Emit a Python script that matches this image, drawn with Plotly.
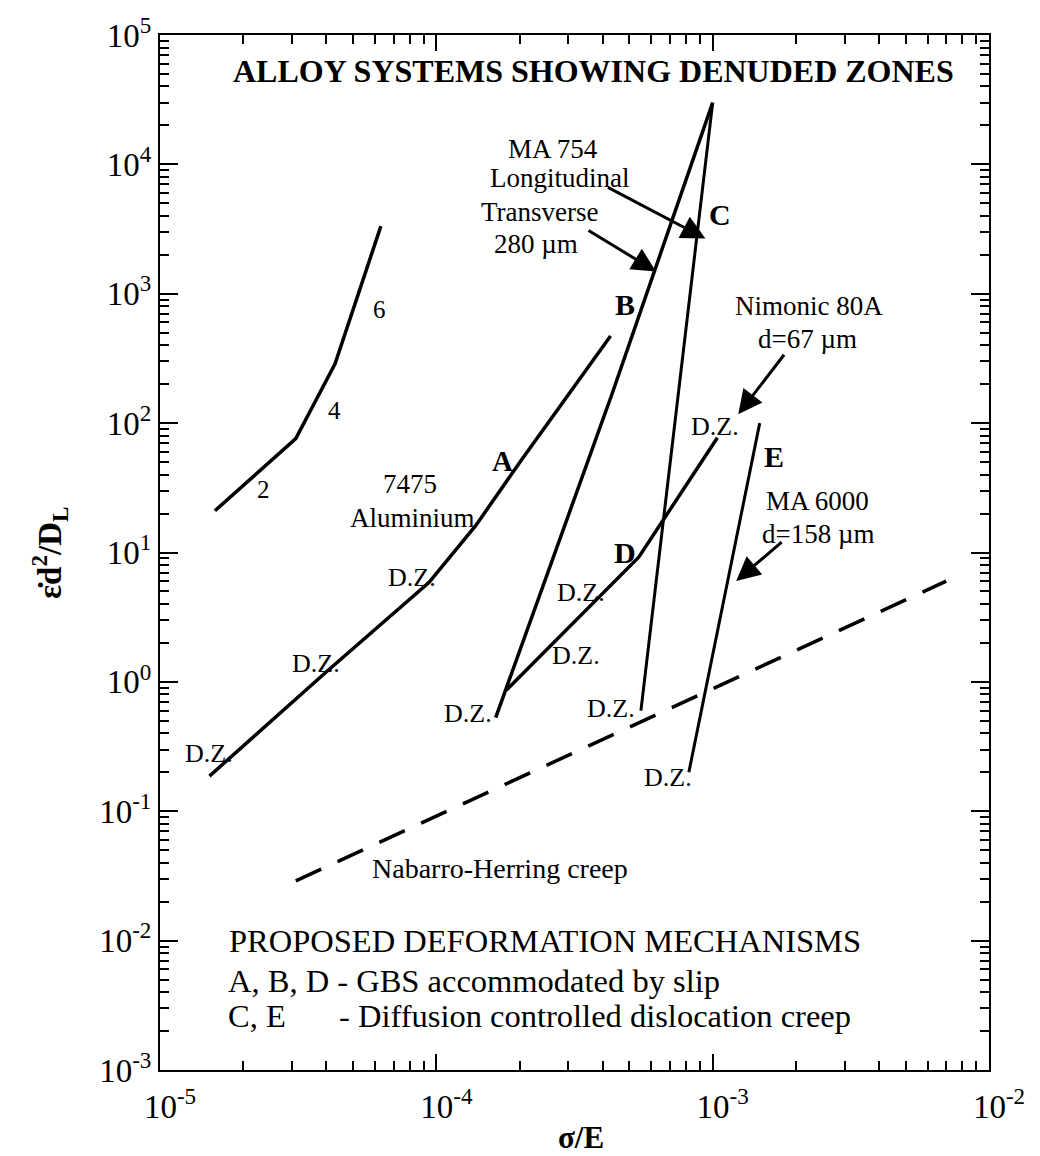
import plotly.graph_objects as go

# ---------------- data ----------------
curve_246_x = [1.58e-5, 3.1e-5, 4.3e-5, 6.3e-5]
curve_246_y = [21, 76, 287, 3330]

al7475_A_x = [1.51e-5, 4.06e-5, 9.4e-5, 1.16e-4, 1.39e-4, 2.02e-4, 4.27e-4]
al7475_A_y = [0.187, 1.23, 5.86, 10.0, 16.2, 51, 472]

ma754_B_x = [1.64e-4, 4.31e-4, 1.0e-3]
ma754_B_y = [0.53, 165, 3.0e4]

ma754_C_x = [1.0e-3, 5.5e-4]
ma754_C_y = [3.0e4, 0.6]

nimonic_D_x = [1.79e-4, 5.4e-4, 1.04e-3]
nimonic_D_y = [0.86, 9.2, 77]

ma6000_E_x = [8.2e-4, 1.48e-3]
ma6000_E_y = [0.2, 100]

nabarro_x = [3.1e-5, 7.0e-3]
nabarro_y = [0.029, 6.0]

x_tickvals = [1e-5, 1e-4, 1e-3, 1e-2]
x_ticktext = ["10<sup>-5</sup>", "10<sup>-4</sup>", "10<sup>-3</sup>", "10<sup>-2</sup>"]
y_tickvals = [1e-3, 1e-2, 1e-1, 1e0, 1e1, 1e2, 1e3, 1e4, 1e5]
y_ticktext = ["10<sup>-3</sup>", "10<sup>-2</sup>", "10<sup>-1</sup>", "10<sup>0</sup>",
              "10<sup>1</sup>", "10<sup>2</sup>", "10<sup>3</sup>", "10<sup>4</sup>",
              "10<sup>5</sup>"]

FONT = "Liberation Serif, Times New Roman, serif"

# plot box in the picture: x 160..989, y 33..1070
W, H = 1040, 1156
SX0, SX1, SY0, SY1 = 160, 989, 33, 1070
ML, MT = SX0, SY0
PW, PH = SX1 - SX0, SY1 - SY0
MR, MB = W - ML - PW, H - MT - PH


def P(px, py):
    """pixel position in the picture -> paper coordinates (corrects slight scan skew)"""
    left = 154 + (py - 33) * 0.0125
    return (px - left) / PW, (SY1 - py) / PH


fig = go.Figure()

solid = [
    (curve_246_x, curve_246_y, 3.5),
    (al7475_A_x, al7475_A_y, 3.5),
    (ma754_B_x, ma754_B_y, 3.5),
    (ma754_C_x, ma754_C_y, 3.0),
    (nimonic_D_x, nimonic_D_y, 3.5),
    (ma6000_E_x, ma6000_E_y, 3.0),
]
for xs, ys, w in solid:
    fig.add_trace(go.Scatter(x=xs, y=ys, mode="lines",
                             line=dict(color="black", width=w),
                             showlegend=False, hoverinfo="skip"))

fig.add_trace(go.Scatter(x=nabarro_x, y=nabarro_y, mode="lines",
                         line=dict(color="black", width=3.5, dash="28px,18px"),
                         showlegend=False, hoverinfo="skip"))

annotations = []


def text(s, px, py, size=27, bold=False, xanchor="center"):
    x, y = P(px, py)
    if bold:
        s = "<b>" + s + "</b>"
    annotations.append(dict(text=s, x=x, y=y, xref="paper", yref="paper",
                            xanchor=xanchor, yanchor="middle", showarrow=False,
                            font=dict(family=FONT, size=size, color="black")))


def arrow(tip, tail):
    x, y = P(*tip)
    annotations.append(dict(text="", x=x, y=y, xref="paper", yref="paper",
                            ax=tail[0] - tip[0], ay=tail[1] - tip[1],
                            showarrow=True, arrowhead=2, arrowsize=1.6,
                            arrowwidth=3, arrowcolor="black"))


text("ALLOY SYSTEMS SHOWING DENUDED ZONES", 588, 69, size=32, bold=True)

text("MA 754", 548, 147, size=27)
text("Longitudinal", 555, 176, size=27)
text("Transverse", 536, 210, size=27)
text("280 \u00b5m", 533, 242, size=27)
arrow((702, 237), (603, 185))
arrow((653, 270), (584, 228))

text("C", 716, 213, size=30, bold=True)
text("B", 622, 303, size=30, bold=True)
text("A", 502, 460, size=29, bold=True)
text("D", 625, 552, size=30, bold=True)
text("E", 773, 455, size=30, bold=True)

text("Nimonic 80A", 806, 305, size=27)
text("d=67 \u00b5m", 805, 338, size=27)
arrow((737, 413), (784, 352))

text("MA 6000", 817, 500, size=27)
text("d=158 \u00b5m", 819, 533, size=27)
arrow((737, 580), (784, 540))

text("2", 263, 488, size=25)
text("4", 333, 409, size=25)
text("6", 377, 308, size=25)

text("7475", 410, 483, size=27)
text("Aluminium", 413, 517, size=27)

for px, py in [(413, 577), (318, 663), (212, 753), (470, 713), (714, 425),
               (582, 592), (578, 655), (613, 708), (671, 777)]:
    text("D.Z.", px, py, size=26)

text("Nabarro-Herring creep", 504, 868, size=28)

text("PROPOSED DEFORMATION MECHANISMS", 232, 941, size=32.5, xanchor="left")
text("A, B, D - GBS accommodated by slip", 232, 981, size=32.5, xanchor="left")
text("C, E", 232, 1016, size=32.5, xanchor="left")
text("- Diffusion controlled dislocation creep", 343, 1016, size=32.5, xanchor="left")

# axis titles
annotations.append(dict(text="<b>\u03b5\u0307d<sup>2</sup>/D<sub>L</sub></b>",
                        x=(50 - SX0) / PW, y=(SY1 - 552) / PH,
                        xref="paper", yref="paper", textangle=-90,
                        showarrow=False, xanchor="center", yanchor="middle",
                        font=dict(family=FONT, size=33, color="black")))
annotations.append(dict(text="<b>\u03c3/E</b>",
                        x=(581 - SX0) / PW, y=(SY1 - 1138) / PH,
                        xref="paper", yref="paper", showarrow=False,
                        xanchor="center", yanchor="middle",
                        font=dict(family=FONT, size=31, color="black")))

axis_common = dict(type="log", showline=True, linewidth=2, linecolor="black",
                   mirror="allticks", ticks="inside", tickwidth=2,
                   tickcolor="black", showgrid=False, zeroline=False,
                   tickmode="array",
                   tickfont=dict(family=FONT, size=33, color="black"),
                   minor=dict(ticks="inside", dtick="D1", ticklen=9,
                              tickwidth=1.5, tickcolor="black", showgrid=False))

fig.update_xaxes(range=[-5, -2], tickvals=x_tickvals, ticktext=x_ticktext,
                 ticklen=16, ticklabelstandoff=6, ticklabelshift=10,
                 **axis_common)
fig.update_yaxes(range=[-3, 5], tickvals=y_tickvals, ticktext=y_ticktext,
                 ticklen=18, **axis_common)

fig.update_layout(width=W, height=H,
                  margin=dict(l=ML, r=MR, t=MT, b=MB),
                  paper_bgcolor="white", plot_bgcolor="white",
                  font=dict(family=FONT, color="black"),
                  annotations=annotations, showlegend=False)

# remove the page's default body margin so the figure sits at the window origin
fig.write_html("out.html",
               config={"displayModeBar": False},
               post_script="document.body.style.margin='0px';"
                           "document.body.style.overflow='hidden';")
